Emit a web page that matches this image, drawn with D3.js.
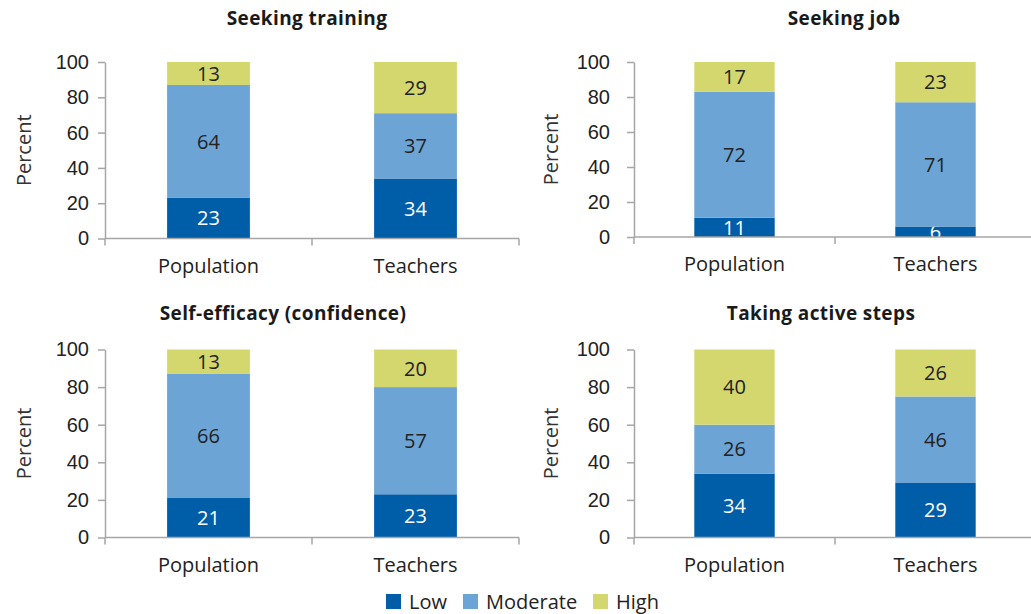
<!DOCTYPE html>
<html>
<head>
<meta charset="utf-8">
<script src="https://cdn.jsdelivr.net/npm/d3@7"></script>
<style>
  body { margin: 0; background: #fff; }
  svg { display: block; font-family: "Open Sans", "Noto Sans", sans-serif; }
</style>
</head>
<body>
<svg id="chart" width="1031" height="614"></svg>
<script>
// chart data
const panelTitles = ["Seeking training", "Seeking job", "Self-efficacy (confidence)", "Taking active steps"];
const groups = ["Population", "Teachers"];
const levels = ["Low", "Moderate", "High"];
const lowVals = [[23, 34], [11, 6], [21, 23], [34, 29]];
const moderateVals = [[64, 37], [72, 71], [66, 57], [26, 46]];
const highVals = [[13, 29], [17, 23], [13, 20], [40, 26]];
const yTicks = [0, 20, 40, 60, 80, 100];

// layout of each small chart (pixels)
const layout = [
  {x0: 105, x1: 519, yTop: 62, yBot: 238.5, titleX: 307, titleY: 25, labX: 24, pad: 9},
  {x0: 634, x1: 1036, yTop: 62, yBot: 237, titleX: 844, titleY: 25, labX: 551, pad: 17},
  {x0: 105, x1: 519, yTop: 349.5, yBot: 537.5, titleX: 283, titleY: 320, labX: 24, pad: 9},
  {x0: 634, x1: 1036, yTop: 349.5, yBot: 537.5, titleX: 821, titleY: 320, labX: 551, pad: 17}
];

const colors = {Low: "#005ea8", Moderate: "#6ca4d6", High: "#d4d76e"};
const textColors = {Low: "#ffffff", Moderate: "#222222", High: "#222222"};
const axisColor = "#a6a6a6";
const fs = "20px";

const svg = d3.select("#chart");
const stack = d3.stack().keys(levels);

panelTitles.forEach((title, p) => {
  const L = layout[p];
  const rows = groups.map((g, i) => ({
    group: g, Low: lowVals[p][i], Moderate: moderateVals[p][i], High: highVals[p][i]
  }));
  const series = stack(rows);

  const x = d3.scaleBand().domain(groups).range([L.x0, L.x1]).paddingInner(0).paddingOuter(0);
  const y = d3.scaleLinear().domain([0, 100]).range([L.yBot, L.yTop]).clamp(true);
  const bw = x.bandwidth() * 0.4;

  const g = svg.append("g");

  // title
  g.append("text")
    .attr("x", L.titleX).attr("y", L.titleY)
    .attr("text-anchor", "middle")
    .attr("font-size", "19px").attr("font-weight", "bold")
    .attr("letter-spacing", "0.4px")
    .attr("fill", "#1a1a1a")
    .text(title);

  // y axis label
  g.append("text")
    .attr("transform", `translate(${L.labX + 7},${(L.yTop + L.yBot) / 2}) rotate(-90)`)
    .attr("text-anchor", "middle")
    .attr("font-size", fs).attr("fill", "#333")
    .text("Percent");

  // bars
  series.forEach(s => {
    const key = s.key;
    s.forEach((d, i) => {
      const bx = x(d.data.group) + (x.bandwidth() - bw) / 2;
      const top = y(d[1]), bot = y(d[0]);
      const clipId = `clip-${p}-${key}-${i}`;
      g.append("clipPath").attr("id", clipId)
        .append("rect").attr("x", bx).attr("y", top).attr("width", bw).attr("height", bot - top);
      g.append("rect")
        .attr("x", bx).attr("y", top)
        .attr("width", bw).attr("height", bot - top)
        .attr("fill", colors[key]);
      g.append("text")
        .attr("clip-path", `url(#${clipId})`)
        .attr("x", bx + bw / 2)
        .attr("y", (top + bot) / 2)
        .attr("dy", "0.36em")
        .attr("text-anchor", "middle")
        .attr("font-size", fs)
        .attr("fill", textColors[key])
        .text(d.data[key]);
    });
  });

  // y axis
  const yAxis = g.append("g")
    .attr("transform", `translate(${L.x0},0)`)
    .call(d3.axisLeft(y).tickValues(yTicks).tickSize(7).tickPadding(L.pad).tickSizeOuter(0));
  yAxis.select(".domain").attr("stroke", axisColor).attr("stroke-width", 1.5);
  yAxis.selectAll(".tick line").attr("stroke", axisColor).attr("stroke-width", 1.5);
  yAxis.selectAll(".tick text")
    .attr("font-size", fs).attr("fill", "#222").attr("font-family", null);

  // x axis with ticks at band edges
  const xAxis = g.append("g").attr("transform", `translate(0,${L.yBot})`);
  xAxis.append("line")
    .attr("x1", L.x0).attr("x2", L.x1)
    .attr("stroke", axisColor).attr("stroke-width", 1.5);
  const edges = [L.x0].concat(groups.map(gr => x(gr) + x.bandwidth()));
  xAxis.selectAll("line.edge").data(edges).enter().append("line")
    .attr("class", "edge")
    .attr("x1", d => d).attr("x2", d => d)
    .attr("y1", 0).attr("y2", 7)
    .attr("stroke", axisColor).attr("stroke-width", 1.5);
  xAxis.selectAll("text").data(groups).enter().append("text")
    .attr("x", d => x(d) + x.bandwidth() / 2)
    .attr("y", 27).attr("dy", "0.36em")
    .attr("text-anchor", "middle")
    .attr("font-size", fs).attr("fill", "#222")
    .text(d => d);
});

// legend
const legendX = [386, 463, 593];
const legend = svg.append("g");
levels.forEach((lv, i) => {
  legend.append("rect")
    .attr("x", legendX[i]).attr("y", 594)
    .attr("width", 15).attr("height", 15)
    .attr("fill", colors[lv]);
  legend.append("text")
    .attr("x", legendX[i] + 23).attr("y", 602).attr("dy", "0.36em")
    .attr("font-size", fs).attr("fill", "#222")
    .text(lv);
});
</script>
</body>
</html>
